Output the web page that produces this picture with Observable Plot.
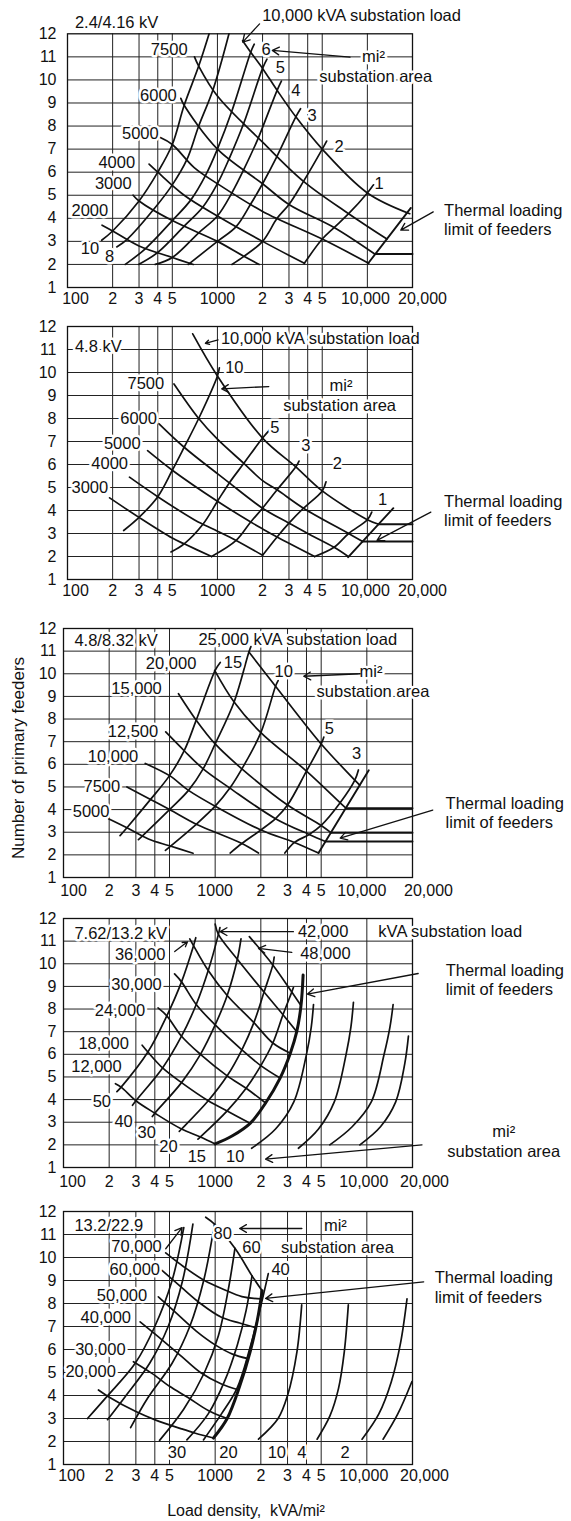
<!DOCTYPE html>
<html><head><meta charset="utf-8">
<script src="https://cdn.jsdelivr.net/npm/d3@7"></script>
<script src="https://cdn.jsdelivr.net/npm/@observablehq/plot@0.6"></script>
<style>
body{margin:0;background:#fff;}
#wrap{position:relative;width:571px;height:1521px;overflow:hidden;background:#fff;}
</style></head>
<body><div id="wrap"></div>
<script>
// ---------- shared axis data ----------
const xGrid = [200,300,400,500,1000,2000,3000,4000,5000,10000];
const yGrid = [2,3,4,5,6,7,8,9,10,11];
const xTicks = [100,200,300,400,500,1000,2000,3000,4000,5000,10000,20000];
const xTickLabels = ["100","2","3","4","5","1000","2","3","4","5","10,000","20,000"];
const yTicks = [1,2,3,4,5,6,7,8,9,10,11,12];

// ---------- Panel 1 : 2.4/4.16 kV ----------
const p1Loads = [
 ["2000",[[170,3.7],[200,3.45],[300,2.8],[500,2.3],[690,2.0]]],
 ["3000",[[274,5.0],[300,4.75],[500,3.9],[1000,3.0],[1500,2.35],[1900,2.0]]],
 ["4000",[[350,6.35],[400,6.0],[600,5.0],[1000,4.1],[2000,3.0],[3800,2.05]]],
 ["5000",[[416,7.5],[500,7.2],[700,6.2],[1000,5.5],[2000,4.3],[5000,3.1],[10200,2.05]]],
 ["6000",[[570,9.2],[600,8.9],[1000,7.0],[2000,5.5],[3000,4.6],[6000,3.6],[11200,2.45]]],
 ["7500",[[703,11.0],[750,10.6],[1000,9.3],[2000,7.3],[3750,5.6],[7500,4.2],[13500,3.1]]],
 ["10000",[[1473,11.7],[1667,11.2],[2000,10.5],[2500,9.55],[3333,8.4],[5000,7.0],[10000,5.1],[19170,4.2]]]
];
const p1Areas = [
 ["10",[[169,3.05],[200,3.45],[300,4.75],[400,6.0],[500,7.2],[600,8.9],[750,10.6],[880,12]]],
 ["8",[[213,2.76],[250,3.09],[375,4.38],[500,5.45],[625,6.54],[750,8.0],[937,9.6],[1194,12]]],
 ["6",[[243,2.0],[333,2.7],[500,3.9],[667,4.81],[833,5.86],[1000,7.0],[1250,8.66],[1667,11.2],[1760,11.55]]],
 ["5",[[298,2.0],[400,2.52],[600,3.66],[800,4.49],[1000,5.5],[1200,6.6],[1500,8.13],[2000,10.5],[2140,10.9]]],
 ["4",[[385,2.0],[500,2.3],[750,3.37],[1000,4.1],[1250,5.11],[1500,6.12],[1875,7.49],[2500,9.55],[2670,9.95]]],
 ["3",[[640,2.0],[1000,3.0],[1333,3.64],[1667,4.62],[2000,5.5],[2500,6.7],[3333,8.4],[3583,8.75]]],
 ["2",[[1250,2.0],[1500,2.35],[2000,3.0],[2500,4.0],[3000,4.6],[3750,5.6],[5000,7.0],[5350,7.35]]],
 ["1",[[3800,2.05],[5000,3.1],[6000,3.6],[7500,4.2],[10000,5.1],[11000,5.45]]]
];
const p1Thermal = [
 ["t",[[10100,2.04],[19500,4.45]]],
 ["h1",[[11200,2.45],[20000,2.45]]]
];
const p1LabelsMid = [
 ["6",2113,11.31],["mi²",10990,10.99],["5",2626,10.55],["4",3337,9.55],["3",4278,8.46],["2",6490,7.09],["1",11960,5.51],
 ["7500",477,11.32],["6000",404,9.33],["5000",306,7.67],["4000",213,6.42],["3000",202,5.51],["2000",141,4.35],["10",141,2.7],["8",191,2.33]
];
const p1LabelsStart = [
 ["2.4/4.16 kV",112,12.5],["10,000 kVA substation load",1988,12.79],["substation area",4785,10.12],
 ["Thermal loading",32500,4.35],["limit of feeders",32500,3.49]
];
const p1Arrows = [[1910,12.43,1473,11.64],[7660,10.99,2323,11.28],[27500,4.28,16700,3.49]];

// ---------- Panel 2 : 4.8 kV ----------
const p2Loads = [
 ["3000",[[191,4.55],[300,3.7],[500,2.8],[600,2.55],[914,2.0]]],
 ["4000",[[259,5.45],[400,4.6],[700,3.6],[800,3.4],[1000,3.1],[1333,2.7],[2000,2.05]]],
 ["5000",[[342,6.6],[500,5.75],[1000,4.4],[1667,3.5],[2000,3.2],[2500,2.85],[4450,2.0]]],
 ["6000",[[408,7.77],[600,6.75],[1000,5.6],[1200,5.2],[2000,4.1],[3000,3.45],[4000,3.0],[6000,2.4],[7450,2.0]]],
 ["7500",[[513,9.5],[750,8.0],[1000,7.1],[1500,6.05],[2000,5.3],[2500,4.9],[3750,4.1],[7500,3.0],[9300,2.65]]],
 ["10000",[[684,11.68],[1000,9.85],[2000,7.15],[3333,5.9],[5000,4.85],[10000,3.6],[11900,3.4]]]
];
const p2Areas = [
 ["10",[[237,3.13],[300,3.7],[400,4.6],[500,5.75],[600,6.75],[750,8.0],[1000,9.85],[1030,10.2]]],
 ["5",[[490,2.2],[600,2.55],[800,3.4],[1000,4.4],[1200,5.2],[1500,6.05],[2000,7.15],[2260,7.55]]],
 ["3",[[914,2.0],[1333,2.7],[1667,3.5],[2000,4.1],[2500,4.9],[3333,5.9],[3500,6.15]]],
 ["2",[[2000,2.05],[2500,2.85],[3000,3.45],[3750,4.1],[5000,4.85],[5300,5.25]]],
 ["1",[[4450,2.0],[6000,2.4],[7500,3.0],[10000,3.6],[10700,3.93]]]
];
const p2Thermal = [
 ["t",[[7450,1.97],[14900,4.1]]],
 ["h1",[[9300,2.65],[20000,2.65]]],
 ["h2",[[11900,3.4],[20000,3.4]]]
];
const p2LabelsMid = [
 ["10",1297,10.2],["mi²",6670,9.43],["5",2417,7.62],["3",3890,6.83],["2",6310,6.03],["1",12630,4.47],
 ["7500",333,9.51],["6000",298,7.99],["5000",232,6.9],["4000",191,6.03],["3000",141,5.01]
];
const p2LabelsStart = [
 ["4.8 kV",112,11.1],["10,000 kVA substation load",1055,11.47],["substation area",2745,8.57],
 ["Thermal loading",32500,4.4],["limit of feeders",32500,3.57]
];
const p2Arrows = [[1010,11.42,831,11.27],[2200,9.39,1068,9.29],[26500,3.93,11600,2.7]];

// ---------- Panel 3 : 4.8/8.32 kV ----------
const p3Loads = [
 ["5000",[[198,3.6],[262,3.2],[363,2.7],[500,2.4],[715,2.07]]],
 ["7500",[[262,5.0],[375,4.45],[500,4.0],[750,3.35],[1000,3.0],[1500,2.5],[1930,2.08]]],
 ["10000",[[346,6.04],[500,5.5],[667,4.85],[1000,4.15],[2000,3.1],[3333,2.55],[4800,2.08]]],
 ["12500",[[472,7.43],[625,6.6],[833,5.8],[1250,4.95],[2500,3.6],[4167,2.9],[5330,2.59]]],
 ["15000",[[573,9.12],[750,7.95],[1000,6.9],[1500,5.8],[3000,4.2],[5000,3.3],[5800,2.98]]],
 ["20000",[[992,10.15],[1333,8.75],[2000,7.4],[4000,5.7],[6667,4.3],[7280,4.06]]],
 ["25000",[[1670,10.96],[2500,9.45],[5000,6.9],[8333,5.3],[8970,5.08]]]
];
const p3Areas = [
 ["20",[[236,2.85],[262,3.2],[375,4.45],[500,5.5],[625,6.6],[750,7.95],[1000,10.15],[1080,10.5]]],
 ["15",[[312,2.67],[333,2.85],[500,4.0],[667,4.85],[833,5.8],[1000,6.9],[1333,8.75],[1667,10.95],[1720,11.2]]],
 ["10",[[470,2.2],[750,3.35],[1000,4.15],[1250,4.95],[1500,5.8],[2000,7.4],[2500,9.45],[2600,9.7]]],
 ["5",[[1255,2.08],[1500,2.5],[2000,3.1],[2500,3.6],[3000,4.2],[4000,5.7],[5000,6.9],[5200,7.2]]],
 ["3",[[2880,2.08],[3333,2.55],[4167,2.9],[5000,3.3],[6667,4.3],[8333,5.3],[8800,5.75]]]
];
const p3Thermal = [
 ["t",[[4800,2.08],[10300,5.74]]],
 ["h1",[[7280,4.06],[20000,4.06]]],
 ["h2",[[5800,2.98],[20000,2.98]]],
 ["h3",[[5330,2.59],[20000,2.59]]]
];
const p3LabelsMid = [
 ["20,000",512,10.44],["15",1309,10.47],["10",2833,10.08],["mi²",10660,10.08],["5",5650,7.58],["3",8550,6.48],
 ["15,000",303,9.34],["12,500",287,7.43],["10,000",212,6.33],["7500",179,5.01],["5000",152,3.91]
];
const p3LabelsStart = [
 ["4.8/8.32 kV",118,11.47],["25,000 kVA substation load",775,11.5],["substation area",4660,9.19],
 ["Thermal loading",33050,4.28],["limit of feeders",33050,3.4]
];
const p3Arrows = [[9030,10.0,3840,9.89],[27200,3.98,6670,2.74]];

// ---------- Panel 4 : 7.62/13.2 kV ----------
const p4Loads = [
 ["12000",[[220,4.7],[240,4.55],[300,3.95],[400,3.4],[600,2.7],[800,2.35],[1000,2.04]]],
 ["18000",[[330,6.4],[360,6.1],[450,5.4],[600,4.75],[900,3.95],[1200,3.5],[1700,2.95]]],
 ["24000",[[420,8.05],[480,7.7],[600,6.8],[800,6.0],[1200,5.05],[1600,4.5],[2150,3.85]]],
 ["30000",[[540,9.55],[600,9.2],[750,8.2],[1000,7.3],[1500,6.2],[2000,5.5],[2680,4.95]]],
 ["36000",[[680,11.1],[720,10.8],[900,9.7],[1200,8.6],[1800,7.4],[2400,6.5],[3130,6.05]]],
 ["42000",[[1000,11.75],[1050,11.3],[1400,10.2],[2100,8.75],[2800,7.75],[3450,7.0]]],
 ["48000",[[1680,11.2],[2400,9.95],[3200,8.75],[3680,8.15]]]
];
const p4Areas = [
 ["50",[[225,4.35],[240,4.55],[360,6.1],[480,7.7],[600,9.2],[720,10.8],[745,11.15]]],
 ["40",[[285,3.75],[300,3.95],[450,5.4],[600,6.8],[750,8.2],[900,9.7],[1050,11.3],[1075,11.6]]],
 ["30",[[385,3.25],[400,3.4],[600,4.75],[800,6.0],[1000,7.3],[1200,8.6],[1400,10.2],[1480,11.1]]],
 ["20",[[580,2.6],[600,2.7],[900,3.95],[1200,5.05],[1500,6.2],[1800,7.4],[2100,8.75],[2400,9.95],[2450,10.3]]],
 ["15",[[770,2.25],[800,2.35],[1200,3.5],[1600,4.5],[2000,5.5],[2400,6.5],[2800,7.75],[3200,8.75],[3280,8.95]]],
 ["10",[[1740,1.85],[2500,2.7],[3300,3.9],[4000,6.0],[4300,7.2],[4450,8.2]]],
 ["r2",[[3540,1.85],[4800,2.7],[6100,3.9],[7300,6.0],[7850,7.2],[8160,8.3]]],
 ["r3",[[5700,2.0],[8000,2.8],[10700,3.9],[13000,6.0],[14200,7.2],[14900,8.2]]],
 ["r4",[[9000,2.0],[12300,2.8],[15500,3.9],[17800,5.6],[18800,6.8]]]
];
const p4Thermal = [
 ["t",[[1000,2.04],[1300,2.4],[1700,2.95],[2150,3.85],[2680,4.95],[3130,6.05],[3450,7.0],[3680,8.15],[3800,9.5]]]
];
const p4LabelsMid = [
 ["42,000",5150,11.43],["48,000",5330,10.46],["36,000",320,10.38],["30,000",303,9.06],["24,000",236,7.92],
 ["18,000",184,6.49],["12,000",165,5.45],["50",179,3.91],["40",249,3.03],["30",354,2.52],["20",492,1.93],
 ["15",757,1.48],["10",1355,1.48],["mi²",79900,2.59],["substation area",79900,1.7]
];
const p4LabelsStart = [
 ["7.62/13.2 kV",118,11.34],["kVA substation load",11910,11.41],
 ["Thermal loading",33100,9.69],["limit of feeders",33100,8.84]
];
const p4Arrows = [[3280,11.42,1079,11.42],[3200,10.5,1930,10.68],[541,10.54,657,10.97],[21800,9.57,4060,8.66],[23100,2.0,2150,1.37]];

// ---------- Panel 5 : 13.2/22.9 kV ----------
const p5Loads = [
 ["20000",[[170,4.24],[198,3.95],[300,3.3],[402,2.94],[600,2.55],[741,2.36],[975,2.15]]],
 ["30000",[[289,5.47],[383,4.96],[500,4.4],[666,3.9],[900,3.35],[1200,3.0]]],
 ["40000",[[320,7.2],[450,6.4],[600,5.7],[800,5.0],[1100,4.5],[1420,4.25]]],
 ["50000",[[422,8.29],[550,7.6],[750,6.8],[1000,6.2],[1300,5.8],[1650,5.6]]],
 ["60000",[[446,9.44],[600,8.7],[800,8.0],[1100,7.4],[1450,7.15],[1850,6.95]]],
 ["70000",[[472,10.2],[620,9.6],[850,9.0],[1150,8.6],[1500,8.3],[2000,8.2]]],
 ["top",[[866,11.75],[990,11.45],[1350,10.4],[1750,9.2],[2040,8.55]]]
];
const p5Areas = [
 ["a1",[[144,3.0],[193,3.95],[297,5.4],[400,7.0],[520,9.0],[621,11.3]]],
 ["a2",[[195,2.95],[255,3.95],[370,5.4],[490,7.0],[610,9.0],[713,11.45]]],
 ["80",[[277,2.6],[360,3.9],[520,5.4],[680,7.0],[840,9.0],[990,11.45]]],
 ["60",[[430,2.05],[620,3.4],[850,5.0],[1050,6.6],[1220,8.6],[1350,10.4]]],
 ["a5",[[651,2.07],[900,3.2],[1150,4.6],[1400,6.2],[1600,7.7],[1750,9.2]]],
 ["40",[[837,2.07],[1100,3.2],[1390,4.3],[1700,6.1],[2000,7.9],[2240,9.3]]],
 ["10",[[1930,2.1],[2600,3.0],[3000,4.0],[3460,5.9],[3720,7.94]]],
 ["4",[[4700,2.1],[5700,3.1],[6500,4.3],[7100,5.9],[7550,7.94]]],
 ["2",[[9300,2.1],[12000,3.2],[14500,4.6],[16700,6.3],[18400,8.2]]],
 ["1",[[12800,2.1],[16000,3.2],[19800,4.6]]]
];
const p5Thermal = [
 ["t",[[975,2.15],[1200,3.0],[1450,4.4],[1700,5.9],[1900,7.3],[2040,8.55]]]
];
const p5LabelsMid = [
 ["mi²",6200,11.4],["80",1121,11.03],["60",1735,10.42],["40",2700,9.45],
 ["70,000",303,10.45],["60,000",295,9.47],["50,000",243,8.36],["40,000",190,7.39],["30,000",175,5.97],["20,000",151,5.03],
 ["30",560,1.5],["20",1224,1.5],["10",2550,1.51],["4",3730,1.5],["2",7200,1.5]
];
const p5LabelsStart = [
 ["13.2/22.9",118,11.39],["substation area",2720,10.42],
 ["Thermal loading",28000,9.13],["limit of feeders",28000,8.26]
];
const p5Arrows = [[3730,11.26,1450,11.26],[23700,8.94,2150,8.22],[472,10.38,605,11.3]];

const yTitle = "Number of primary feeders";
const xTitle = "Load density,  kVA/mi²";

// ---------- drawing ----------
const FONT = '"Liberation Sans", Arial, Helvetica, sans-serif';
const INK = "#111";
function rows(curves){ return curves.flatMap(([id, pts]) => pts.map(([D, N]) => ({id, D, N}))); }
const fmt = d => xTickLabels[xTicks.indexOf(d)];

function build(cfg, d){
  const tx = {x:t=>t, text:fmt, frameAnchor:"bottom", lineAnchor:"top", dy:cfg.pad, fontSize:16, fill:INK};
  const lineOpt = {x:"D", y:"N", z:"id", curve:"catmull-rom", stroke:INK, strokeWidth:1.7};
  const lab = {x:r=>r[1], y:r=>r[2], text:r=>r[0], fontSize:16.5, fill:INK, stroke:"white", strokeWidth:5};
  const marks = [
    Plot.gridX(xGrid, {stroke:"#222", strokeOpacity:1, strokeWidth:1}),
    Plot.gridY(yGrid, {stroke:"#222", strokeOpacity:1, strokeWidth:1}),
    Plot.frame({stroke:INK, strokeWidth:1.3}),
    Plot.axisY(yTicks, {tickSize:0, tickPadding:cfg.ml-56, label:null, fontSize:16, fill:INK}),
    Plot.text(xTicks.filter(t => t!==100 && t!==10000 && t!==20000), tx),
    Plot.text([100], {...tx, dx:cfg.dx100}),
    Plot.text([10000], {...tx, dx:cfg.dx10k}),
    Plot.text([20000], {...tx, dx:cfg.dx20k}),
    Plot.line(rows(d.loads), lineOpt),
    Plot.line(rows(d.areas), lineOpt),
    Plot.line(rows(d.thermal), {...lineOpt, strokeWidth:cfg.tw}),
    Plot.text(d.mid, {...lab, textAnchor:"middle"}),
    Plot.text(d.start, {...lab, textAnchor:"start"}),
    Plot.arrow(d.arrows, {x1:r=>r[0], y1:r=>r[1], x2:r=>r[2], y2:r=>r[3], stroke:INK, strokeWidth:1.3, headLength:9})
  ];
  if (cfg.extra) marks.push(...cfg.extra);
  return Plot.plot({
    width:571, height:cfg.height,
    marginTop:cfg.mt, marginBottom:cfg.mb, marginLeft:cfg.ml, marginRight:159,
    x:{type:"log", domain:[100,20000], label:null, axis:null},
    y:{domain:[1,12], label:null, axis:null},
    style:{position:"absolute", top:cfg.top+"px", left:"0px", overflow:"visible", fontFamily:FONT, fontSize:"16px", background:"transparent", color:INK},
    marks
  });
}

const wrap = document.getElementById("wrap");
const panels = [
  [{top:0, height:310, mt:33.3, mb:23, ml:67, pad:5, dx100:8, dx10k:-2, dx20k:10, tw:1.9},
   {loads:p1Loads, areas:p1Areas, thermal:p1Thermal, mid:p1LabelsMid, start:p1LabelsStart, arrows:p1Arrows}],
  [{top:310, height:295, mt:16, mb:26, ml:67, pad:5, dx100:8, dx10k:-2, dx20k:10, tw:1.9},
   {loads:p2Loads, areas:p2Areas, thermal:p2Thermal, mid:p2LabelsMid, start:p2LabelsStart, arrows:p2Arrows}],
  [{top:605, height:295, mt:23, mb:23, ml:63, pad:7, dx100:10, dx10k:-5, dx20k:16, tw:1.9,
    extra:[Plot.text([yTitle], {text:d=>d, frameAnchor:"left", textAnchor:"middle", lineAnchor:"middle", rotate:-90, dx:-45, dy:5, fontSize:17, fill:INK})]},
   {loads:p3Loads, areas:p3Areas, thermal:p3Thermal, mid:p3LabelsMid, start:p3LabelsStart, arrows:p3Arrows}],
  [{top:900, height:295, mt:18, mb:28, ml:63, pad:8, dx100:9, dx10k:-3, dx20k:12, tw:3},
   {loads:p4Loads, areas:p4Areas, thermal:p4Thermal, mid:p4LabelsMid, start:p4LabelsStart, arrows:p4Arrows}],
  [{top:1195, height:326, mt:16, mb:57, ml:63, pad:5, dx100:8, dx10k:-3, dx20k:12, tw:3,
    extra:[Plot.text([xTitle], {text:d=>d, frameAnchor:"bottom", textAnchor:"middle", lineAnchor:"middle", dy:46, dx:8, fontSize:16, fill:INK})]},
   {loads:p5Loads, areas:p5Areas, thermal:p5Thermal, mid:p5LabelsMid, start:p5LabelsStart, arrows:p5Arrows}]
];
for (const [cfg, d] of panels) wrap.appendChild(build(cfg, d));
</script>
</body></html>
